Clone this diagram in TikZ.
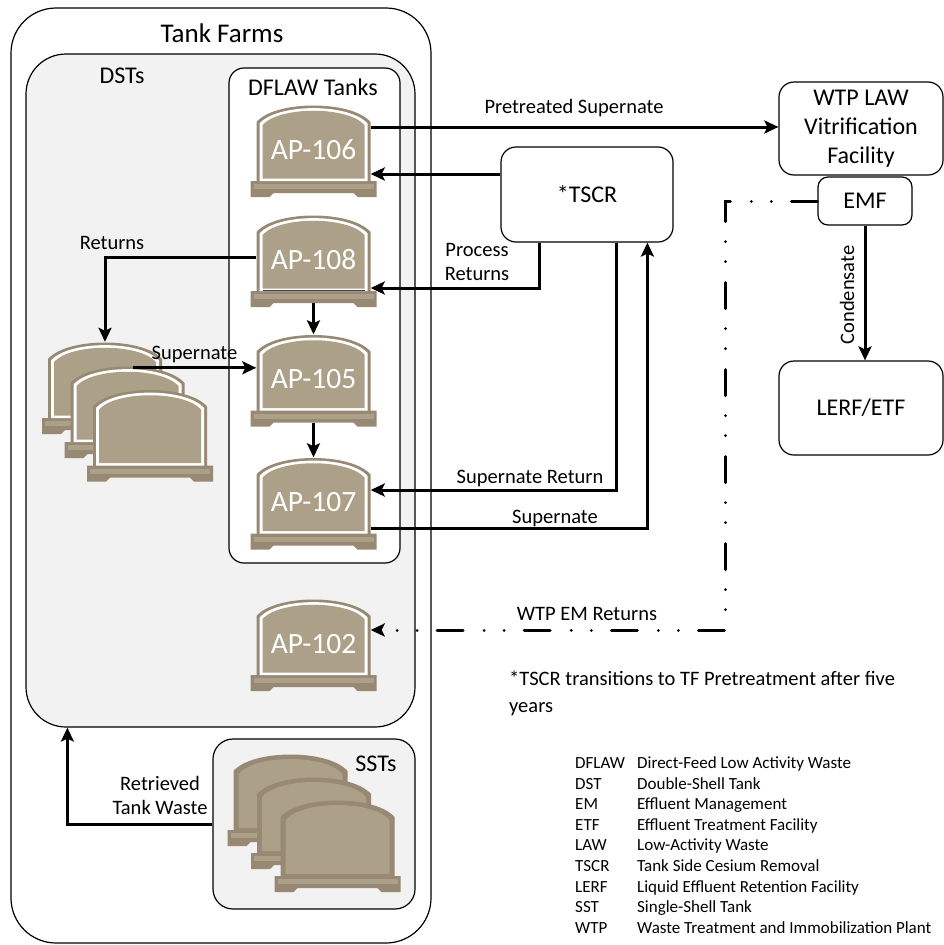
\documentclass[tikz,border=0pt]{standalone}
\usepackage{fontspec}
\setmainfont{Carlito}
\usetikzlibrary{arrows.meta,calc}
\definecolor{tkedge}{RGB}{151,137,116}
\definecolor{tkfill}{RGB}{172,160,136}
\definecolor{panel}{RGB}{242,242,242}
\tikzset{
  tip/.tip={Stealth[length=14pt,width=13pt,inset=3pt]},
  arr/.style={line width=3pt, -tip},
  emline/.style={line width=3pt, line cap=round, dash pattern=on 26pt off 20pt on 0.01pt off 20pt on 0.01pt off 21pt, -tip},
  grp/.style={draw, line width=1.2pt, inner sep=0pt},
  boxnode/.style={draw, fill=white, line width=1.2pt, rounded corners=15pt, align=center, font=\fontsize{24}{29}\selectfont, inner sep=0pt},
  lbl/.style={font=\fontsize{20.5}{24}\selectfont, inner sep=0pt, align=center},
  ttl/.style={font=\fontsize{24}{29}\selectfont, inner sep=0pt},
  tklabel/.style={text=white, font=\fontsize{29.5}{34}\selectfont, inner sep=0pt},
  pics/dst/.style={code={
    \path[fill=tkedge] (-63,30) -- (63,30) -- (63,46) -- (44,46) -- (40,42) -- (-40,42) -- (-44,46) -- (-63,46) -- cycle;
    \path[fill=tkfill] (-60,33) -- (60,33) -- (60,38) -- (-60,38) -- cycle;
    \path[fill=tkedge] (-57,32) -- (-57,-29) .. controls (-38,-51) and (38,-51) .. (57,-29) -- (57,32) -- cycle;
    \path[fill=white] (-54,30) -- (-54,-27.5) .. controls (-36,-48) and (36,-48) .. (54,-27.5) -- (54,30) -- cycle;
    \path[fill=tkfill] (-51,27.5) -- (-51,-26) .. controls (-34,-45) and (34,-45) .. (51,-26) -- (51,27.5) -- cycle;
    \node[inner sep=0pt, minimum width=114pt, minimum height=92pt] (-body) at (0,0) {};
    \node[tklabel] (-label) at (0,-1) {#1};
  }},
  pics/sst/.style={code={
    \path[fill=tkedge] (-63,30) -- (63,30) -- (63,46) -- (44,46) -- (40,42) -- (-40,42) -- (-44,46) -- (-63,46) -- cycle;
    \path[fill=tkfill] (-60,33) -- (60,33) -- (60,38) -- (-60,38) -- cycle;
    \path[fill=tkedge] (-57,32) -- (-57,-29) .. controls (-38,-51) and (38,-51) .. (57,-29) -- (57,32) -- cycle;
    \path[fill=tkfill] (-52,28) -- (-52,-26) .. controls (-35,-46) and (35,-46) .. (52,-26) -- (52,28) -- cycle;
    \node[inner sep=0pt, minimum width=114pt, minimum height=92pt] (-body) at (0,0) {};
  }},
}
\begin{document}
\begin{tikzpicture}[x=1pt, y=-1pt]
\useasboundingbox (0,0) rectangle (944,945);
% group boxes
\node[grp, rounded corners=45pt, minimum width=420pt, minimum height=935pt] (tf) at (221,475.5) {};
\node[grp, fill=panel, rounded corners=40pt, minimum width=389pt, minimum height=673pt] (dsts) at (220.5,390.5) {};
\node[grp, fill=white, rounded corners=15pt, minimum width=171pt, minimum height=495pt] (dflaw) at (314.5,315.5) {};
\node[grp, fill=panel, rounded corners=20pt, minimum width=202pt, minimum height=170pt] (sstbox) at (314,824) {};
\node[ttl, font=\fontsize{27}{32}\selectfont] (tftitle) at (222,33) {Tank Farms};
\node[ttl] (dsttitle) at (122,76) {DSTs};
\node[ttl] (dflawtitle) at (313,87) {DFLAW Tanks};
\node[ttl] (ssttitle) at (376,764) {SSTs};
% tanks
\pic (ap106) at (313.5,151) {dst=AP-106};
\pic (ap108) at (313.5,261) {dst=AP-108};
\draw[black!75, line width=1pt] ($(ap108-body.center)+(-51,29)$) -- ($(ap108-body.center)+(51,29)$);
\pic (ap105) at (313.5,380.5) {dst=AP-105};
\pic (ap107) at (313.5,503.5) {dst=AP-107};
\pic (ap102) at (313.5,645) {dst=AP-102};
\pic (d1) at (105,388) {dst=};
\pic (d2) at (127.5,412) {dst=};
\pic (d3) at (150,435.5) {dst=};
\pic (s1) at (290.5,800) {sst};
\pic (s2) at (314,823) {sst};
\pic (s3) at (337.5,846) {sst};
% right boxes
\node[boxnode, minimum width=164pt, minimum height=93pt] (wtp) at (861,128.5) {WTP LAW\\Vitrification\\Facility};
\node[boxnode, rounded corners=10pt, minimum width=94pt, minimum height=48pt] (emf) at (865,201) {EMF};
\node[boxnode, minimum width=164pt, minimum height=94pt] (lerf) at (861,408) {LERF/ETF};
\node[boxnode, minimum width=172pt, minimum height=95pt] (tscr) at (587,194.5) {*TSCR};
% connection points
\coordinate (ap106out) at ($(ap106-body.east)+(0,-24)$);
\coordinate (ap106in) at ($(ap106-body.east)+(0,23)$);
\coordinate (ap108in) at ($(ap108-body.east)+(0,27)$);
\coordinate (ap108out) at ($(ap108-body.west)+(0,-4)$);
\coordinate (ap107in) at ($(ap107-body.east)+(0,-13.5)$);
\coordinate (ap107out) at ($(ap107-body.east)+(0,24.5)$);
\coordinate (ap102in) at ($(ap102-body.east)+(0,-15)$);
\coordinate (d2out) at ($(d2-body.north)+(5.5,2)$);
\coordinate (pr) at ($(tscr.south west)+(39,0)$);
\coordinate (sr) at ($(tscr.south west)+(116,0)$);
\coordinate (su) at ($(tscr.south west)+(147,0)$);
\coordinate (rtw) at ($(dsts.south west)+(42,0)$);
\coordinate (emx) at (725,0);
% connectors
\draw[arr] (ap106out) -- (wtp.west |- ap106out);
\draw[arr] (tscr.west |- ap106in) -- (ap106in);
\draw[arr] (pr) |- (ap108in);
\draw[arr] (sr) |- (ap107in);
\draw[arr] (ap107out) -| (su);
\draw[arr] ($(ap108-body.south)+(0,-4)$) -- (ap105-body.north);
\draw[arr] ($(ap105-body.south)+(0,-4)$) -- (ap107-body.north);
\draw[arr] (ap108out) -| (d1-body.north);
\draw[arr] (d2out) -- (ap105-body.west |- d2out);
\draw[arr] (sstbox.west) -| (rtw);
\draw[arr] (emf.south) -- (emf.south |- lerf.north);
\draw[emline] (emf.west) -| (emx |- ap102in) -- (ap102in);
% labels
\node[lbl, anchor=base] (lpre) at (574,113) {Pretreated Supernate};
\node[lbl, anchor=base] (lret) at (112,249) {Returns};
\node[lbl, anchor=base] (lsup1) at (194.5,359) {Supernate};
\node[lbl] (lproc) at (477,262) {Process\\Returns};
\node[lbl, anchor=base] (lsr) at (530,483) {Supernate Return};
\node[lbl, anchor=base] (lsup2) at (555,523) {Supernate};
\node[lbl, anchor=base] (lem) at (587,620) {WTP EM Returns};
\node[lbl, rotate=90] (lcond) at (847,295) {Condensate};
\node[lbl] (lrtw) at (160,795) {Retrieved\\Tank Waste};
\node[lbl, anchor=base west] (note1) at (509,685) {*TSCR transitions to TF Pretreatment after five};
\node[lbl, anchor=base west] (note2) at (509,712) {years};
% legend
\node[anchor=base west, inner sep=0pt, font=\fontsize{17}{20.6}\selectfont] (legend) at (575,768.5) {%
\begin{tabular}[t]{@{}p{62pt}@{}l@{}}
DFLAW & Direct-Feed Low Activity Waste\\
DST & Double-Shell Tank\\
EM & Effluent Management\\
ETF & Effluent Treatment Facility\\
LAW & Low-Activity Waste\\
TSCR & Tank Side Cesium Removal\\
LERF & Liquid Effluent Retention Facility\\
SST & Single-Shell Tank\\
WTP & Waste Treatment and Immobilization Plant
\end{tabular}};
\end{tikzpicture}
\end{document}
